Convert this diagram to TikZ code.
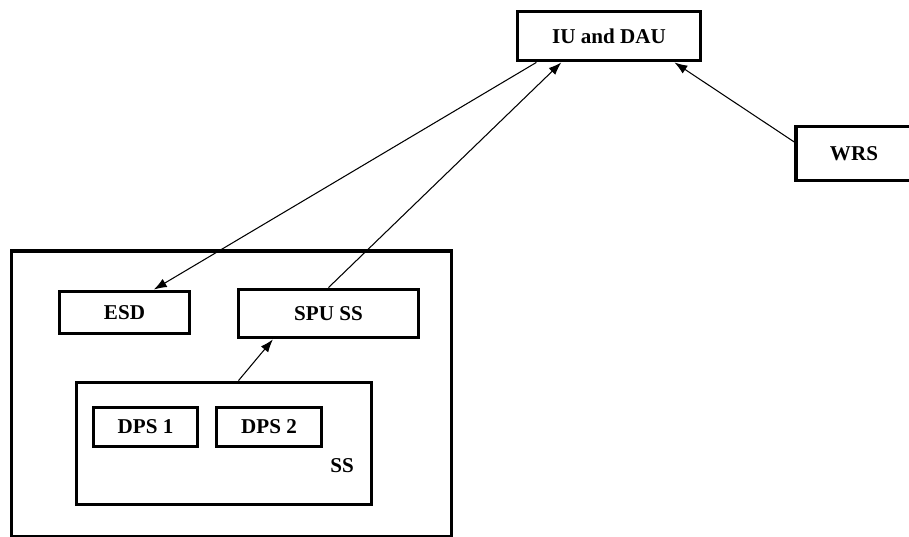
\documentclass[tikz,border=0pt]{standalone}
\usepackage{fontspec}
\setmainfont{Liberation Serif}
\usetikzlibrary{arrows.meta}
\tikzset{
  blk/.style={draw, rectangle, line width=3.3pt, inner sep=0pt, font=\bfseries\fontsize{18}{21}\selectfont},
  lbl/.style={inner sep=0pt, font=\bfseries\fontsize{18}{21}\selectfont},
  arr/.style={-{Latex[length=11pt,width=8pt]}, line width=0.9pt},
}
\begin{document}
\begin{tikzpicture}[x=0.03cm, y=-0.03cm]
\useasboundingbox (0,0) rectangle (909,536);
\node[blk, minimum width=440*0.03cm, minimum height=286*0.03cm] (sys) at (231.5,394) {};
\node[blk, minimum width=295*0.03cm, minimum height=122*0.03cm] (ss) at (224,443.5) {};
\node[blk, minimum width=104*0.03cm, minimum height=39*0.03cm] (dps1) at (145.5,427) {DPS 1};
\node[blk, minimum width=105*0.03cm, minimum height=39*0.03cm] (dps2) at (269,427) {DPS 2};
\node[lbl] (sslbl) at (342,466) {SS};
\node[blk, minimum width=130*0.03cm, minimum height=42*0.03cm] (esd) at (124.5,312.5) {ESD};
\node[blk, minimum width=180*0.03cm, minimum height=48*0.03cm] (spu) at (328.5,313.5) {SPU SS};
\node[blk, minimum width=183*0.03cm, minimum height=49*0.03cm] (iu) at (609,36) {IU and DAU};
\node[blk, minimum width=116*0.03cm, minimum height=54*0.03cm] (wrs) at (854,153.5) {WRS};
\draw[arr] (iu.200) -- (esd.38);
\draw[arr] (spu.north) -- (iu.209);
\draw[arr] (wrs.169) -- (iu.338);
\draw[arr] (ss.77) -- (spu.205);
\end{tikzpicture}
\end{document}
